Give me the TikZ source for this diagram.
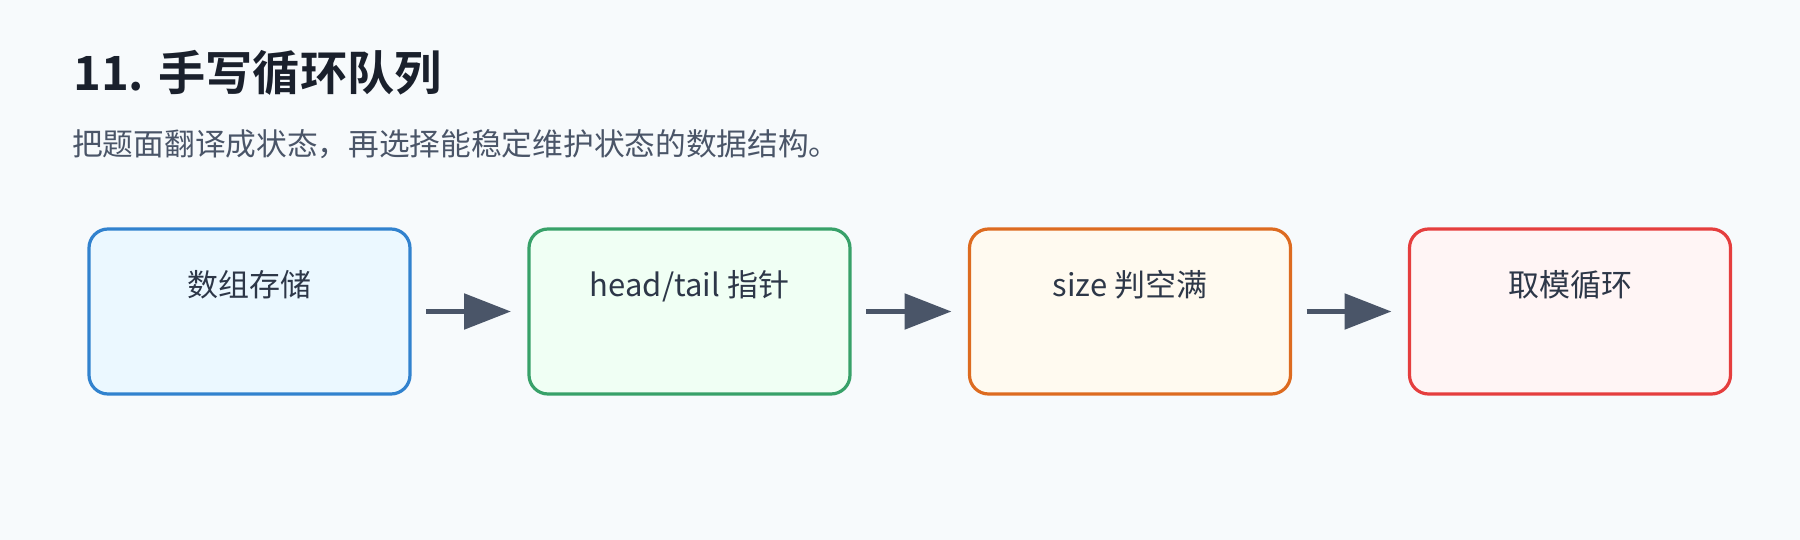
\documentclass[tikz,border=0pt]{standalone}
\usepackage{fontspec}
\setmainfont{Noto Sans CJK SC}[BoldFont={Noto Sans CJK SC Bold}]
\usetikzlibrary{arrows.meta}
\definecolor{bg}{HTML}{F7FAFC}
\definecolor{titlec}{HTML}{1A202C}
\definecolor{subc}{HTML}{4A5568}
\definecolor{txtc}{HTML}{2D3748}
\definecolor{arrc}{HTML}{4A5568}
\definecolor{bluel}{HTML}{3182CE}\definecolor{bluef}{HTML}{EBF8FF}
\definecolor{greenl}{HTML}{38A169}\definecolor{greenf}{HTML}{F0FFF4}
\definecolor{orangel}{HTML}{DD6B20}\definecolor{orangef}{HTML}{FFFAF0}
\definecolor{redl}{HTML}{E53E3E}\definecolor{redf}{HTML}{FFF5F5}
\tikzset{
  stagebox/.style={draw=#1l, fill=#1f, line width=3.2pt, rounded corners=19pt,
    minimum width=321pt, minimum height=165pt, inner sep=0pt, outer sep=0pt},
  stagetext/.style={anchor=base, text=txtc, font=\fontsize{31}{36}\selectfont, inner sep=0pt},
  flowarrow/.style={draw=arrc, line width=5.5pt, -{Triangle[length=47pt,width=35pt]}}
}
\begin{document}
\begin{tikzpicture}[x=1pt,y=-1pt]
\fill[bg] (0,0) rectangle (1800,540);
\useasboundingbox (0,0) rectangle (1800,540);
\node[anchor=base west, inner sep=0pt, text=titlec, font=\fontsize{47.2}{52}\selectfont\bfseries] (title) at (73,91) {11. 手写循环队列};
\node[anchor=base west, inner sep=0pt, text=subc, font=\fontsize{30.7}{36}\selectfont] (sub) at (72,156) {把题面翻译成状态，再选择能稳定维护状态的数据结构。};
\node[stagebox=blue] (b1) at (249.5,311.5) {};
\node[stagebox=green] (b2) at (689.5,311.5) {};
\node[stagebox=orange] (b3) at (1130,311.5) {};
\node[stagebox=red] (b4) at (1570,311.5) {};
\node[stagetext] (t1) at (249.5,296) {数组存储};
\node[stagetext] (t2) at (689.5,296) {head/tail 指针};
\node[stagetext] (t3) at (1130,296) {size 判空满};
\node[stagetext] (t4) at (1570,296) {取模循环};
\draw[flowarrow] ([xshift=16pt]b1.east) -- ([xshift=-18pt]b2.west);
\draw[flowarrow] ([xshift=16pt]b2.east) -- ([xshift=-18pt]b3.west);
\draw[flowarrow] ([xshift=16pt]b3.east) -- ([xshift=-18pt]b4.west);
\end{tikzpicture}
\end{document}
